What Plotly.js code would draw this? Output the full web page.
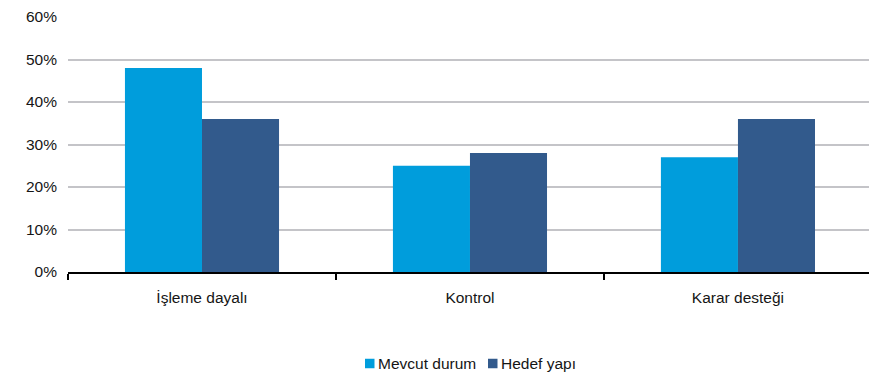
<!DOCTYPE html>
<html>
<head>
<meta charset="utf-8">
<script src="https://cdn.plot.ly/plotly-3.0.1.min.js"></script>
<style>
  html, body { margin: 0; padding: 0; background: #fff; overflow: hidden; }
  #chart { width: 869px; height: 374px; }
</style>
</head>
<body>
<div id="chart"></div>
<script>
// Categories and shares (fractions) per structure
const categories = ["İşleme dayalı", "Kontrol", "Karar desteği"];
const seriesNames = ["Mevcut durum", "Hedef yapı"];
const mevcutDurum = [0.48, 0.25, 0.27];
const hedefYapi = [0.36, 0.28, 0.36];
const yTickValues = [0, 0.1, 0.2, 0.3, 0.4, 0.5, 0.6];
const yTickLabels = ["0%", "10%", "20%", "30%", "40%", "50%", "60%"];
const seriesColors = ["#009ddc", "#325a8c"];

const fontFamily = "Liberation Sans, Arial, Helvetica, sans-serif";
const textColor = "#151515";
const fontSize = 15.5;

const W = 869, H = 374;
const margin = { l: 68, r: 0, t: 17, b: 102 };
const plotW = W - margin.l - margin.r;
const plotH = H - margin.t - margin.b;
// convert page pixels to paper coordinates (for the legend row below the axis)
const px = (x) => (x - margin.l) / plotW;
const py = (y) => (H - margin.b - y) / plotH;

const traces = [mevcutDurum, hedefYapi].map((vals, i) => ({
  type: "bar",
  name: seriesNames[i],
  x: categories,
  y: vals,
  marker: { color: seriesColors[i] },
  hoverinfo: "skip",
  showlegend: false
}));

// legend row: square swatch followed tightly by its label
const legendItems = [
  { swatchX: 365, textX: 376 },
  { swatchX: 488, textX: 499 }
];
const legendY = 363.5;
const swatch = 9.5;
const shapes = legendItems.map((it, i) => ({
  type: "rect",
  xref: "paper", yref: "paper",
  x0: px(it.swatchX), x1: px(it.swatchX + swatch),
  y0: py(legendY - swatch / 2), y1: py(legendY + swatch / 2),
  fillcolor: seriesColors[i],
  line: { width: 0 }
}));
const annotations = legendItems.map((it, i) => ({
  xref: "paper", yref: "paper",
  x: px(it.textX), y: py(legendY),
  xanchor: "left", yanchor: "middle",
  text: seriesNames[i],
  showarrow: false,
  font: { family: fontFamily, size: fontSize, color: textColor }
}));

const layout = {
  width: W,
  height: H,
  margin: { l: margin.l, r: margin.r, t: margin.t, b: margin.b, pad: 0 },
  paper_bgcolor: "#ffffff",
  plot_bgcolor: "#ffffff",
  barmode: "group",
  bargap: 0.425,
  bargroupgap: 0,
  showlegend: false,
  font: { family: fontFamily, size: fontSize, color: textColor },
  xaxis: {
    type: "category",
    range: [-0.5, 2.489],
    showline: true,
    linecolor: "#000000",
    linewidth: 2,
    showgrid: false,
    zeroline: false,
    ticks: "outside",
    tickson: "boundaries",
    ticklen: 6,
    tickwidth: 2,
    tickcolor: "#000000",
    ticklabelstandoff: 10,
    tickfont: { family: fontFamily, size: fontSize, color: textColor },
    fixedrange: true
  },
  yaxis: {
    range: [0, 0.6],
    tickvals: yTickValues,
    ticktext: yTickLabels,
    showgrid: true,
    gridcolor: "#c4c4c8",
    gridwidth: 2,
    zeroline: false,
    showline: false,
    ticks: "",
    ticklabelstandoff: 10,
    tickfont: { family: fontFamily, size: fontSize, color: textColor },
    fixedrange: true
  },
  shapes: shapes,
  annotations: annotations
};

Plotly.newPlot("chart", traces, layout, { displayModeBar: false, staticPlot: true });
</script>
</body>
</html>
